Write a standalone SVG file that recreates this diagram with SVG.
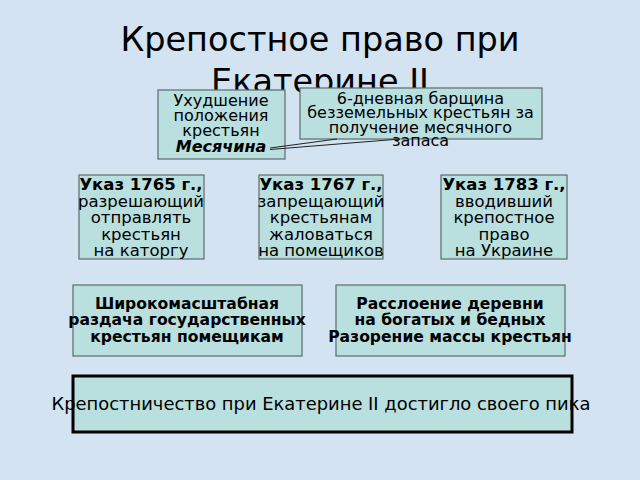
<svg xmlns="http://www.w3.org/2000/svg" width="640" height="480" viewBox="0 0 640 480">
<style>
.bg{fill:#d3e3f1}
.box{fill:#b9dfdf;stroke:#5b6b6b;stroke-width:1.2}
.big{fill:#b9dfdf;stroke:#000;stroke-width:3}
text{font-family:"DejaVu Sans",sans-serif;fill:#000;text-anchor:middle}
.t1{font-size:16px}
.t2{font-size:16.5px}
.b2{font-size:16.5px;font-weight:bold}
.b3{font-size:15.6px;font-weight:bold}
.title{font-size:33.5px}
</style>
<rect class="bg" x="0" y="0" width="640" height="480"/>
<g id="title">
<text class="title" x="320" y="51">Крепостное право при</text>
<text class="title" x="320" y="93">Екатерине II</text>
</g>
<g id="n1">
<rect class="box" x="158" y="90" width="127" height="69"/>
<text class="t1" x="221" y="106">Ухудшение</text>
<text class="t1" x="221" y="121">положения</text>
<text class="t1" x="221" y="136">крестьян</text>
<text class="t1" x="221" y="152" font-weight="bold" font-style="italic">Месячина</text>
</g>
<g id="n2">
<rect class="box" x="300" y="88" width="242" height="51"/>
<text class="t1" x="420.5" y="104">6-дневная барщина</text>
<text class="t1" x="420.5" y="118">безземельных крестьян за</text>
<text class="t1" x="420.5" y="133">получение месячного</text>
<text class="t1" x="420.5" y="146">запаса</text>
</g>
<g id="connectors">
<line x1="270" y1="148" x2="337" y2="139" stroke="#222" stroke-width="1"/>
<line x1="270" y1="149.5" x2="400" y2="139" stroke="#222" stroke-width="1"/>
</g>
<g id="n3">
<rect class="box" x="79" y="175" width="125" height="84"/>
<text class="b2" x="141" y="190">Указ 1765 г.,</text>
<text class="t2" x="141" y="207">разрешающий</text>
<text class="t2" x="141" y="223">отправлять</text>
<text class="t2" x="141" y="240">крестьян</text>
<text class="t2" x="141" y="256">на каторгу</text>
</g>
<g id="n4">
<rect class="box" x="259" y="175" width="124" height="84"/>
<text class="b2" x="321" y="190">Указ 1767 г.,</text>
<text class="t2" x="321" y="207">запрещающий</text>
<text class="t2" x="321" y="223">крестьянам</text>
<text class="t2" x="321" y="240">жаловаться</text>
<text class="t2" x="321" y="256">на помещиков</text>
</g>
<g id="n5">
<rect class="box" x="441" y="175" width="126" height="84"/>
<text class="b2" x="504" y="190">Указ 1783 г.,</text>
<text class="t2" x="504" y="207">вводивший</text>
<text class="t2" x="504" y="223">крепостное</text>
<text class="t2" x="504" y="240">право</text>
<text class="t2" x="504" y="256">на Украине</text>
</g>
<g id="n6">
<rect class="box" x="73" y="285" width="229" height="71"/>
<text class="b3" x="187" y="309">Широкомасштабная</text>
<text class="b3" x="187" y="325">раздача государственных</text>
<text class="b3" x="187" y="342">крестьян помещикам</text>
</g>
<g id="n7">
<rect class="box" x="336" y="285" width="229" height="71"/>
<text class="b3" x="450" y="309">Расслоение деревни</text>
<text class="b3" x="450" y="325">на богатых и бедных</text>
<text class="b3" x="450" y="342">Разорение массы крестьян</text>
</g>
<g id="n8">
<rect class="big" x="73" y="376" width="499" height="56"/>
<text x="321" y="410" font-size="17.9px">Крепостничество при Екатерине II достигло своего пика</text>
</g>
</svg>
